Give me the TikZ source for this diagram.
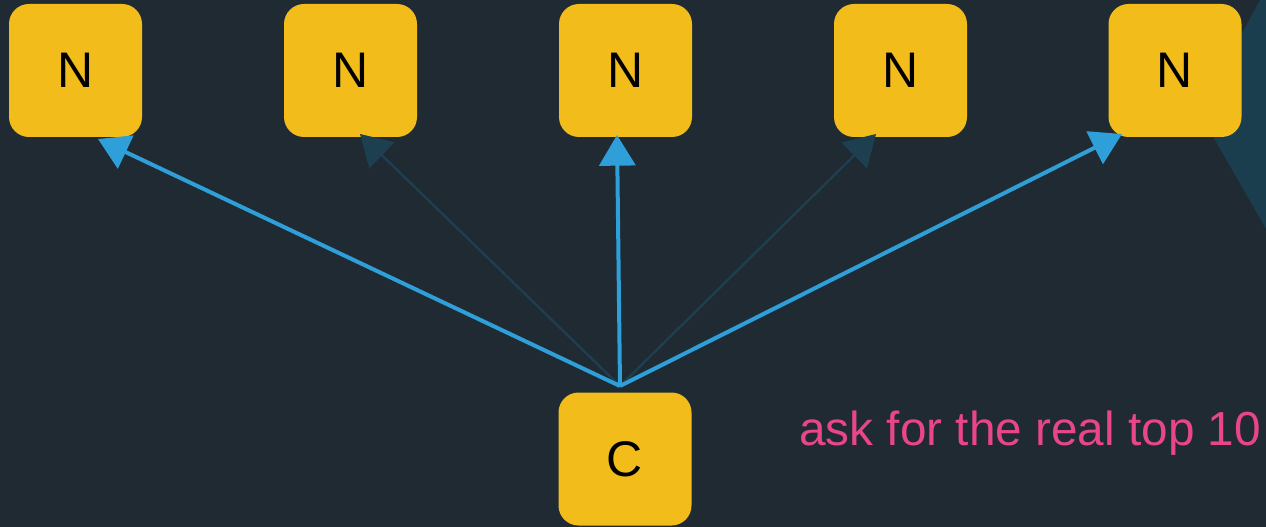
\documentclass[tikz,border=0pt]{standalone}
\usepackage{fontspec}
\setmainfont{Liberation Sans}
\usetikzlibrary{arrows.meta}
\definecolor{bg}{HTML}{1F2A33}
\definecolor{boxy}{HTML}{F2BC1B}
\definecolor{arr}{HTML}{2E9FD8}
\definecolor{faint}{HTML}{1D3F50}
\definecolor{tri}{HTML}{1B3E4E}
\definecolor{pink}{HTML}{E8458B}
\tikzset{
  box/.style={fill=boxy, rounded corners=15pt, minimum width=99.75pt, minimum height=99.75pt, inner sep=0pt,
    font=\fontsize{37.5}{40}\selectfont, text=black},
  link/.style={line width=3pt, -{Triangle[length=23pt,width=27pt]}},
  faintlink/.style={line width=1.8pt, faint, -{Triangle[length=23pt,width=27pt]}},
}
\begin{document}
\begin{tikzpicture}[x=0.75pt,y=-0.75pt]
\fill[bg] (0,0) rectangle (1266,527);
\useasboundingbox (0,0) rectangle (1266,527);
\fill[tri] (1260,0) -- (1199,112) -- (1266,229) -- (1266,0) -- cycle;
\node[box] (n1) at (75.5,70.5) {N};
\node[box] (n2) at (350.5,70.5) {N};
\node[box] (n3) at (625.5,70.5) {N};
\node[box] (n4) at (900.5,70.5) {N};
\node[box] (n5) at (1175,70.5) {N};
\node[box] (c) at (625,459) {C};
\coordinate (o) at (620,386);
\coordinate (t1) at (98,139);
\coordinate (t2) at (360,134);
\coordinate (t3) at (617,135);
\coordinate (t4) at (876,134);
\coordinate (t5) at (1122,134);
\draw[faintlink] (o) -- (t2);
\draw[faintlink] (o) -- (t4);
\draw[link, arr] (o) -- (t1);
\draw[link, arr] (o) -- (t3);
\draw[link, arr] (o) -- (t5);
\node[anchor=base west, inner sep=0pt, text=pink, font=\fontsize{35.8}{40}\selectfont] (lbl) at (799,445) {ask for the real top 10};
\end{tikzpicture}
\end{document}
